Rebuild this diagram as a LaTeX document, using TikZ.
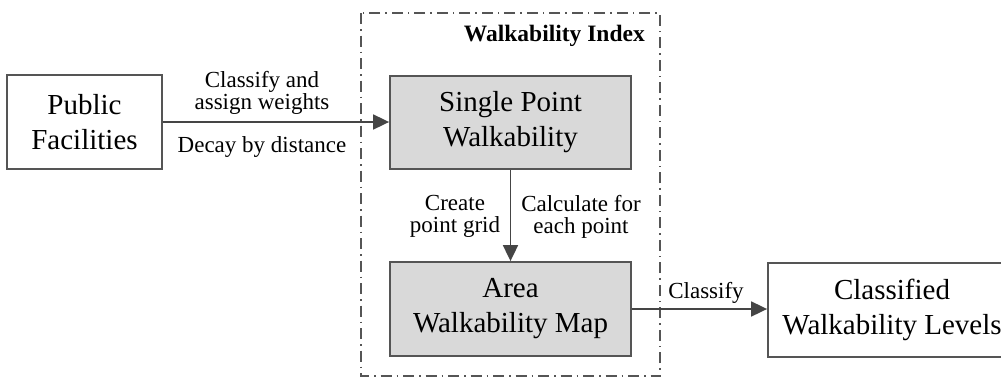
\documentclass[tikz,border=0pt]{standalone}
\usepackage{fontspec}
\setmainfont{Liberation Serif}
\usetikzlibrary{arrows.meta}

\definecolor{linegray}{HTML}{555555}
\definecolor{arrowgray}{HTML}{454545}
\definecolor{boxfill}{HTML}{D9D9D9}

\tikzset{
  boxtext/.style={font=\fontsize{29}{35}\selectfont, align=center},
  plainbox/.style={draw=linegray, line width=1.8pt, fill=white, inner sep=0pt, boxtext},
  graybox/.style={plainbox, fill=boxfill},
  lbl/.style={font=\fontsize{23}{22}\selectfont, align=center, inner sep=0pt},
  flow/.style={draw=arrowgray, line width=1.8pt, -{Triangle[length=16pt,width=15pt]}},
  frame/.style={draw=linegray, line width=1.4pt, dash pattern=on 11pt off 5pt on 1.5pt off 5pt}
}

\begin{document}
\begin{tikzpicture}[x=1pt, y=-1pt]
  \useasboundingbox (0,0) rectangle (1001,378);

  % dash-dotted frame around the index computation
  \draw[frame] (361,13) rectangle (660,376);
  \node[anchor=base east, font=\fontsize{23.5}{28}\selectfont\bfseries, inner sep=0pt]
    (title) at (645,41) {Walkability Index};

  % boxes
  \node[plainbox, minimum width=155pt, minimum height=94pt] (pf) at (84.5,122)
    {Public\\Facilities};
  \node[graybox, minimum width=241pt, minimum height=93pt] (sp) at (510.5,122.5)
    {Single Point\\Walkability};
  \node[graybox, minimum width=241pt, minimum height=94pt] (am) at (510.5,309)
    {Area\\Walkability Map};
  \node[plainbox, minimum width=248pt, minimum height=94pt] (cw) at (892,310)
    {Classified\\Walkability Levels};

  % connectors
  \draw[flow] (pf.east) -- (pf.east -| sp.west);
  \draw[flow] (sp.south) -- (am.north);
  \draw[flow] (am.east) -- (am.east -| cw.west);

  % connector labels
  \node[lbl] (l1) at (262,92.7) {Classify and\\assign weights};
  \node[lbl] (l2) at (262,146.7) {Decay by distance};
  \node[lbl] (l3) at (455,216.7) {Create\\point grid};
  \node[lbl] (l4) at (581,216.7) {Calculate for\\each point};
  \node[lbl] (l5) at (706,292.7) {Classify};
\end{tikzpicture}
\end{document}
